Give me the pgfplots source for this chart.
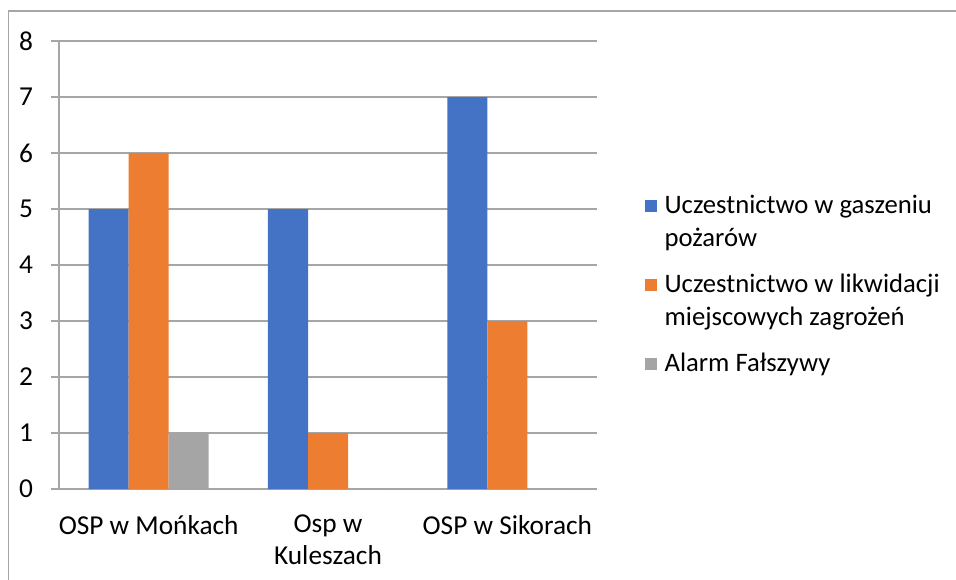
\documentclass[border=0pt]{standalone}
\usepackage{pgfplots}
\pgfplotsset{compat=1.18}
\usepackage{fontspec}
\setmainfont{Carlito}
\definecolor{cblue}{HTML}{4472C4}
\definecolor{corange}{HTML}{ED7D31}
\definecolor{cgray}{HTML}{A5A5A5}
\definecolor{cgrid}{HTML}{A6A6A6}
\newcommand{\tl}[1]{\begin{tabular}[t]{@{\hspace{3.5pt}}l@{}}#1\end{tabular}}
\begin{document}
\begin{tikzpicture}
\path[use as bounding box] (-44.25pt,-67.5pt) rectangle (672.75pt,366.75pt);
\draw[cgrid, line width=0.8pt] (-37.9pt,-70pt) -- (-37.9pt,358.5pt) -- (675pt,358.5pt);
\begin{axis}[
  at={(0,0)}, anchor=south west,
  scale only axis,
  width=403.5pt, height=336pt,
  ybar=0pt, bar width=30pt,
  xmin=-0.5, xmax=2.5,
  ymin=0, ymax=8,
  ytick={0,1,...,8},
  xtick={0,1,2},
  xticklabels={OSP w Mońkach,{Osp w\\Kuleszach},OSP w Sikorach},
  x tick label style={align=center, font=\fontsize{20.5}{24}\selectfont, yshift=-10pt},
  y tick label style={font=\fontsize{20.5}{24}\selectfont, xshift=-10pt},
  /pgf/number format/assume math mode=true,
  axis lines*=left,
  axis line style={cgrid, line width=0.8pt},
  ymajorgrids,
  grid style={cgrid, line width=0.8pt},
  tick style={cgrid, line width=0.8pt},
  tick align=outside,
  major tick length=6pt,
  x tick style={draw=none},
  extra x ticks={-0.5,0.5,1.5,2.5},
  extra x tick labels={},
  extra x tick style={grid=none, tick style={cgrid, line width=0.8pt, draw=cgrid}, major tick length=5.5pt},
  legend style={at={(1,1)}, anchor=north west, xshift=33pt, yshift=-108pt, draw=none, fill=none,
    font=\fontsize{20}{24.5}\selectfont, row sep=36.5pt,
    nodes={inner sep=2pt, anchor=base west}},
  legend cell align=left,
  legend image code/.code={\fill[#1] (0pt,1pt) rectangle (9pt,10pt);},
]
\addplot[fill=cblue, draw=none] coordinates {(0,5) (1,5) (2,7)};
\addplot[fill=corange, draw=none] coordinates {(0,6) (1,1) (2,3)};
\addplot[fill=cgray, draw=none] coordinates {(0,1) (1,0) (2,0)};
\legend{{\tl{Uczestnictwo w gaszeniu\\pożarów}},{\tl{Uczestnictwo w likwidacji\\miejscowych zagrożeń}},{\tl{Alarm Fałszywy}}}
\end{axis}
\end{tikzpicture}
\end{document}
